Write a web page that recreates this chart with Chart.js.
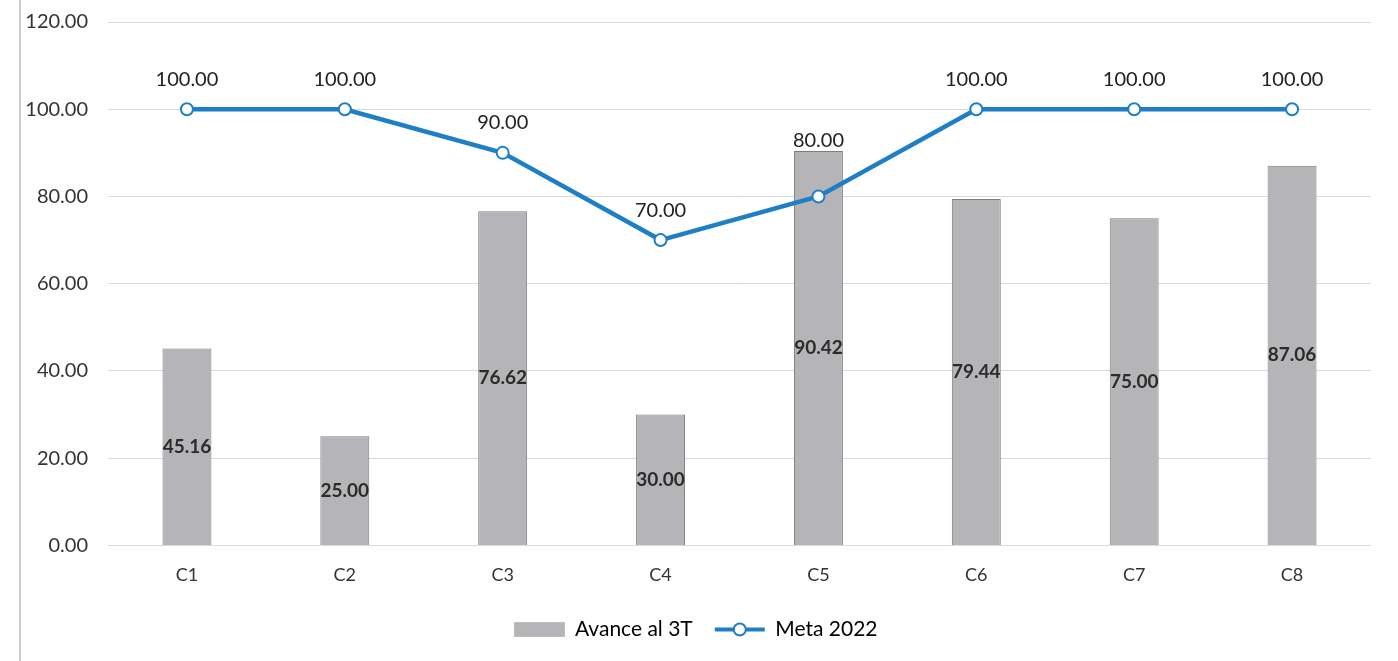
<!DOCTYPE html>
<html>
<head>
<meta charset="utf-8">
<script src="https://cdn.jsdelivr.net/npm/chart.js@4.4.0/dist/chart.umd.min.js"></script>
<style>
  html, body { margin: 0; padding: 0; background: #fff; }
  #wrap { position: relative; height: 661px; border-left: 2px solid #cbcbcb; box-sizing: border-box; margin-left: 19px; width: 1379px; }
</style>
</head>
<body>
<div id="wrap"><canvas id="myChart"></canvas></div>
<script>
// chart data
const categories = ["C1", "C2", "C3", "C4", "C5", "C6", "C7", "C8"];
const avanceValues = [45.16, 25.00, 76.62, 30.00, 90.42, 79.44, 75.00, 87.06];
const metaValues = [100, 100, 90, 70, 80, 100, 100, 100];
const yTicks = [0, 20, 40, 60, 80, 100, 120];

const barGray = "#b5b5b8";
const lineBlue = "#1f7fc6";
const fontFamily = "Lato, 'Open Sans', sans-serif";

// draws the value labels (bar centre / above point)
const valueLabels = {
    id: "valueLabels",
    afterDatasetsDraw(chart) {
        const ctx = chart.ctx;
        const bars = chart.getDatasetMeta(0).data;
        ctx.save();
        ctx.textAlign = "center";
        ctx.textBaseline = "middle";
        // bars
        bars.forEach((el, i) => {
            const mid = (el.y + el.base) / 2;
            ctx.font = "bold 19px " + fontFamily;
            ctx.fillStyle = "#2b2b2b";
            ctx.fillText(avanceValues[i].toFixed(2), el.x, mid);
        });
        // line points - above the point, or above the bar if the bar is taller
        chart.getDatasetMeta(1).data.forEach((el, i) => {
            const y = Math.min(el.y - 30, bars[i].y - 10);
            ctx.font = "20px " + fontFamily;
            ctx.fillStyle = "#222";
            ctx.fillText(metaValues[i].toFixed(2), el.x, y);
        });
        ctx.restore();
    },
    afterDraw(chart) {
        // line + marker symbol for the Meta legend item
        const lg = chart.legend;
        if (!lg || !lg.legendHitBoxes) return;
        const box = lg.legendHitBoxes[1];
        const ctx = chart.ctx;
        const bw = lg.options.labels.boxWidth;
        const cy = box.top + box.height / 2;
        ctx.save();
        ctx.strokeStyle = lineBlue;
        ctx.lineWidth = 4;
        ctx.beginPath();
        ctx.moveTo(box.left, cy);
        ctx.lineTo(box.left + bw, cy);
        ctx.stroke();
        ctx.beginPath();
        ctx.arc(box.left + bw / 2, cy, 6, 0, Math.PI * 2);
        ctx.fillStyle = "#fff";
        ctx.fill();
        ctx.lineWidth = 2;
        ctx.stroke();
        ctx.restore();
    }
};

new Chart(document.getElementById("myChart"), {
    type: "bar",
    data: {
        labels: categories,
        datasets: [
            {
                type: "bar",
                label: "Avance al 3T",
                data: avanceValues,
                backgroundColor: barGray,
                borderColor: "#7d7d80",
                borderWidth: 1,
                barPercentage: 0.62,
                categoryPercentage: 0.5,
                order: 2
            },
            {
                type: "line",
                label: "Meta 2022",
                data: metaValues,
                borderColor: lineBlue,
                borderWidth: 4.5,
                tension: 0,
                pointRadius: 6,
                pointBorderWidth: 2,
                pointBackgroundColor: "#fff",
                pointBorderColor: lineBlue,
                fill: false,
                order: 1
            }
        ]
    },
    options: {
        responsive: true,
        maintainAspectRatio: false,
        animation: false,
        layout: { padding: { left: 0, right: 27, top: 22, bottom: 11 } },
        scales: {
            x: {
                grid: { display: false },
                border: { display: false },
                ticks: { color: "#333", font: { family: fontFamily, size: 18 }, padding: 11 }
            },
            y: {
                min: 0,
                max: 120,
                afterBuildTicks(axis) { axis.ticks = yTicks.map(v => ({ value: v })); },
                afterFit(axis) { axis.width = 87; axis.paddingTop = 0; },
                grid: { color: "#dadada", lineWidth: 1, drawTicks: false },
                border: { display: false },
                ticks: {
                    color: "#333",
                    font: { family: fontFamily, size: 20 },
                    padding: 20,
                    callback: v => Number(v).toFixed(2)
                }
            }
        },
        plugins: {
            tooltip: { enabled: false },
            legend: {
                position: "bottom",
                labels: {
                    boxWidth: 50,
                    boxHeight: 14,
                    color: "#333",
                    padding: 22,
                    font: { family: fontFamily, size: 21 },
                    generateLabels(chart) {
                        return [
                            { text: "Avance al 3T", fillStyle: barGray, strokeStyle: "#bdbdc0", lineWidth: 1, datasetIndex: 0 },
                            { text: "Meta 2022", fillStyle: "rgba(0,0,0,0)", strokeStyle: "rgba(0,0,0,0)", lineWidth: 0, datasetIndex: 1 }
                        ];
                    }
                }
            }
        }
    },
    plugins: [valueLabels]
});
</script>
</body>
</html>
